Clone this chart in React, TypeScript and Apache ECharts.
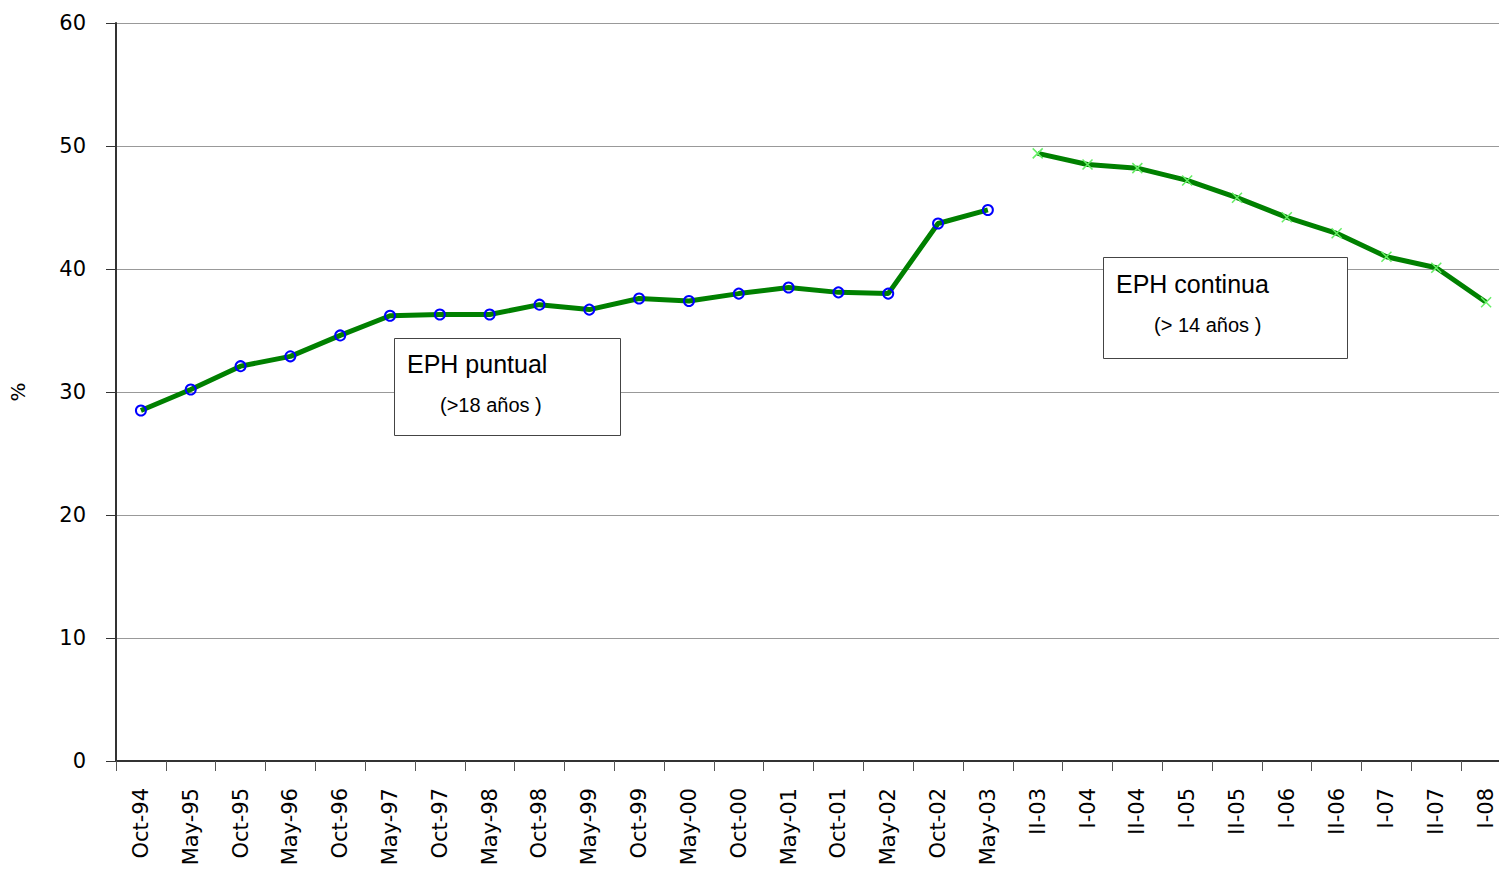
import React, { useEffect, useRef } from "react";
import * as echarts from "echarts";

const categories = [
  "Oct-94", "May-95", "Oct-95", "May-96", "Oct-96", "May-97", "Oct-97", "May-98",
  "Oct-98", "May-99", "Oct-99", "May-00", "Oct-00", "May-01", "Oct-01", "May-02",
  "Oct-02", "May-03", "II-03", "I-04", "II-04", "I-05", "II-05", "I-06", "II-06",
  "I-07", "II-07", "I-08",
];

const puntualValues = [
  28.5, 30.2, 32.1, 32.9, 34.6, 36.2, 36.3, 36.3, 37.1, 36.7, 37.6, 37.4, 38.0,
  38.5, 38.1, 38.0, 43.7, 44.8,
];

const continuaValues = [49.4, 48.5, 48.2, 47.2, 45.8, 44.2, 42.9, 41.0, 40.1, 37.3];

const yTicks = { min: 0, max: 60, interval: 10 };

const puntualLabel = ["EPH puntual", "(>18 años )"];
const continuaLabel = ["EPH continua", "(> 14 años )"];

export default function App() {
  const ref = useRef<HTMLDivElement>(null);
  useEffect(() => {
    if (!ref.current) return;
    const chart = echarts.init(ref.current, null, { renderer: "svg" });
    const n = categories.length;
    const s1 = categories.map((_, i) => (i < puntualValues.length ? puntualValues[i] : null));
    const s2 = categories.map((_, i) =>
      i >= n - continuaValues.length ? continuaValues[i - (n - continuaValues.length)] : null
    );
    const labelFont = "DejaVu Sans";
    chart.setOption({
      animation: false,
      backgroundColor: "#ffffff",
      grid: { left: 114, right: 0, top: 23, bottom: 129, containLabel: false },
      xAxis: {
        type: "category",
        data: categories,
        boundaryGap: true,
        axisLine: { show: true, lineStyle: { color: "#333333", width: 2 } },
        axisTick: { show: true, interval: 0, length: 10, lineStyle: { color: "#555555", width: 1 } },
        axisLabel: {
          interval: 0,
          rotate: 90,
          margin: 27,
          fontSize: 21,
          fontFamily: labelFont,
          color: "#000000",
        },
        splitLine: { show: false },
      },
      yAxis: {
        type: "value",
        min: yTicks.min,
        max: yTicks.max,
        interval: yTicks.interval,
        name: "%",
        nameLocation: "middle",
        nameRotate: 90,
        nameGap: 88,
        nameTextStyle: { fontSize: 20, fontFamily: labelFont, color: "#000000" },
        axisLine: { show: true, lineStyle: { color: "#333333", width: 2 } },
        axisTick: { show: true, length: 10, lineStyle: { color: "#333333", width: 1 } },
        axisLabel: { margin: 30, fontSize: 21, fontFamily: labelFont, color: "#000000" },
        splitLine: { show: true, lineStyle: { color: "#999999", width: 1 } },
      },
      series: [
        {
          type: "line",
          data: s1,
          connectNulls: false,
          symbol: "circle",
          symbolSize: 10,
          showSymbol: true,
          lineStyle: { color: "#008000", width: 5 },
          itemStyle: { color: "rgba(0,0,0,0)", borderColor: "#0000ff", borderWidth: 2 },
          z: 3,
        },
        {
          type: "line",
          data: s2,
          connectNulls: false,
          symbol: "path://M0,0L10,10M10,0L0,10",
          symbolSize: 10,
          showSymbol: true,
          lineStyle: { color: "#008000", width: 5 },
          itemStyle: { color: "rgba(0,0,0,0)", borderColor: "#66ee66", borderWidth: 1.5 },
          z: 3,
        },
      ],
      graphic: [
        {
          type: "rect",
          left: 394,
          top: 338,
          shape: { width: 226, height: 97 },
          style: { fill: "#ffffff", stroke: "#444444", lineWidth: 1 },
          z: 10,
        },
        {
          type: "text",
          left: 407,
          top: 351,
          style: { text: puntualLabel[0], fontSize: 25, fontFamily: "Liberation Sans", fill: "#000000" },
          z: 11,
        },
        {
          type: "text",
          left: 440,
          top: 395,
          style: { text: puntualLabel[1], fontSize: 20, fontFamily: "Liberation Sans", fill: "#000000" },
          z: 11,
        },
        {
          type: "rect",
          left: 1103,
          top: 257,
          shape: { width: 244, height: 101 },
          style: { fill: "#ffffff", stroke: "#444444", lineWidth: 1 },
          z: 10,
        },
        {
          type: "text",
          left: 1116,
          top: 271,
          style: { text: continuaLabel[0], fontSize: 25, fontFamily: "Liberation Sans", fill: "#000000" },
          z: 11,
        },
        {
          type: "text",
          left: 1154,
          top: 315,
          style: { text: continuaLabel[1], fontSize: 20, fontFamily: "Liberation Sans", fill: "#000000" },
          z: 11,
        },
      ],
    });
    return () => chart.dispose();
  }, []);
  return (
    <div
      ref={ref}
      style={{ position: "fixed", left: 0, top: 0, width: 1511, height: 890, background: "#fff" }}
    />
  );
}
